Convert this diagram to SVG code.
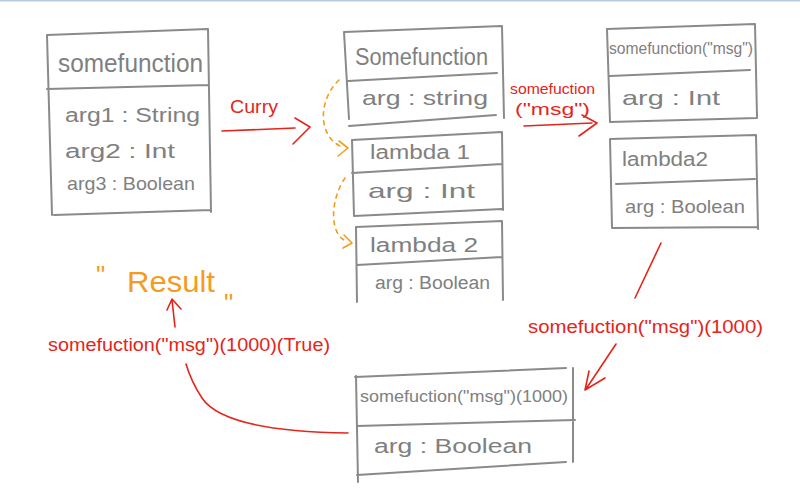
<svg xmlns="http://www.w3.org/2000/svg" width="800" height="496" viewBox="0 0 800 496">
<defs>
<style>
.box{fill:none;stroke:#8a8a8a;stroke-width:2;stroke-linecap:round;stroke-linejoin:round}
.t{font-family:"Liberation Sans","DejaVu Sans",sans-serif;fill:#808080}
.red{fill:none;stroke:#e3251b;stroke-width:1.6;stroke-linecap:round;stroke-linejoin:round}
.rt{font-family:"Liberation Sans","DejaVu Sans",sans-serif;fill:#e3251b}
.or{fill:none;stroke:#f39c1f;stroke-width:1.6;stroke-dasharray:4 5;stroke-linecap:round}
.orh{fill:none;stroke:#f39c1f;stroke-width:1.6;stroke-linecap:round;stroke-linejoin:round}
.ot{font-family:"Liberation Sans","DejaVu Sans",sans-serif;fill:#f39c1f}
</style>
</defs>
<rect x="0" y="0" width="800" height="496" fill="#ffffff"/>
<rect x="0" y="0" width="800" height="1.5" fill="#b9c9de"/>

<g id="node-somefunction">
<path class="box" d="M47,35 L208,29 M208,29 L211,212 M47,35 L52,215 M54,215 L211,210 M47,89 L208,85"/>
<text class="t" x="58" y="72" font-size="25" textLength="145" lengthAdjust="spacingAndGlyphs">somefunction</text>
<text class="t" x="65" y="122" font-size="20" textLength="135" lengthAdjust="spacingAndGlyphs">arg1 : String</text>
<text class="t" x="65" y="158" font-size="20" textLength="110" lengthAdjust="spacingAndGlyphs">arg2 : Int</text>
<text class="t" x="67" y="190" font-size="19" textLength="128" lengthAdjust="spacingAndGlyphs">arg3 : Boolean</text>
</g>

<g id="node-b1">
<path class="box" d="M344,32 L502,26 M502,26 L504,118 M344,32 L349,119 M349,126 L496,115 M348,81 L497,73"/>
<text class="t" x="355" y="65" font-size="23" textLength="133" lengthAdjust="spacingAndGlyphs">Somefunction</text>
<text class="t" x="362" y="105" font-size="21" textLength="126" lengthAdjust="spacingAndGlyphs">arg : string</text>
</g>

<g id="node-b2">
<path class="box" d="M352,140 L502,132 M502,132 L503,210 M352,140 L354,216 M354,216 L502,209 M352,173 L502,164"/>
<text class="t" x="370" y="159" font-size="20" textLength="100" lengthAdjust="spacingAndGlyphs">lambda 1</text>
<text class="t" x="368" y="198" font-size="21" textLength="107" lengthAdjust="spacingAndGlyphs">arg : Int</text>
</g>

<g id="node-b3">
<path class="box" d="M356,227 L502,221 M502,221 L503,300 M356,227 L357,302 M357,265 L502,257"/>
<text class="t" x="370" y="252" font-size="20" textLength="108" lengthAdjust="spacingAndGlyphs">lambda 2</text>
<text class="t" x="375" y="289" font-size="18" textLength="115" lengthAdjust="spacingAndGlyphs">arg : Boolean</text>
</g>

<g id="node-c1">
<path class="box" d="M607,29 L755,24 M755,24 L757,117 M607,29 L610,122 M610,122 L757,118 M610,76 L750,70"/>
<text class="t" x="609" y="54" font-size="16" textLength="144" lengthAdjust="spacingAndGlyphs">somefunction("msg")</text>
<text class="t" x="622" y="105" font-size="21" textLength="98" lengthAdjust="spacingAndGlyphs">arg : Int</text>
</g>

<g id="node-c2">
<path class="box" d="M610,139 L756,135 M756,135 L758,229 M610,139 L612,227 M612,228 L758,227 M616,184 L755,179"/>
<text class="t" x="622" y="166" font-size="20" textLength="86" lengthAdjust="spacingAndGlyphs">lambda2</text>
<text class="t" x="625" y="213" font-size="19" textLength="120" lengthAdjust="spacingAndGlyphs">arg : Boolean</text>
</g>

<g id="node-d">
<path class="box" d="M355,377 L566,368 M573,368 L573,462 M356,376 L358,482 M357,475 L566,462 M357,426 L575,420"/>
<text class="t" x="360" y="402" font-size="17" textLength="208" lengthAdjust="spacingAndGlyphs">somefuction("msg")(1000)</text>
<text class="t" x="374" y="453" font-size="20" textLength="158" lengthAdjust="spacingAndGlyphs">arg : Boolean</text>
</g>

<g id="node-result">
<text class="ot" x="127" y="292" font-size="30" textLength="88" lengthAdjust="spacingAndGlyphs">Result</text>
<text class="ot" x="96" y="284" font-size="26">"</text>
<text class="ot" x="224" y="312" font-size="26">"</text>
</g>

<g id="connectors">
<path class="red" d="M222,131 L295,128 M295,118 L310,127 L293,144"/>
<text class="rt" x="230" y="113" font-size="18" textLength="48" lengthAdjust="spacingAndGlyphs">Curry</text>

<path class="or" d="M339,80 C318,100 318,135 340,146"/>
<path class="orh" d="M339,141 L348,148 L338,156"/>
<path class="or" d="M345,178 C330,200 330,232 344,240"/>
<path class="orh" d="M344,235 L352,243 L343,248"/>

<path class="red" d="M524,126 L592,123 M582,115 L597,123 L579,136"/>
<text class="rt" x="510" y="94" font-size="14" textLength="85" lengthAdjust="spacingAndGlyphs">somefuction</text>
<text class="rt" x="515" y="115" font-size="16" textLength="75" lengthAdjust="spacingAndGlyphs">("msg")</text>

<path class="red" d="M661,243 L635,298"/>
<text class="rt" x="528" y="333" font-size="18" textLength="235" lengthAdjust="spacingAndGlyphs">somefuction("msg")(1000)</text>
<path class="red" d="M616,344 L586,389 M589,371 L585,390 L605,378"/>

<path class="red" d="M348,433 C272,432 218,422 202,398 C194,386 189,374 186,364"/>
<text class="rt" x="48" y="351" font-size="18" textLength="282" lengthAdjust="spacingAndGlyphs">somefuction("msg")(1000)(True)</text>
<path class="red" d="M175,327 L172,300 M167,310 L172,299 L181,309"/>
</g>
</svg>
